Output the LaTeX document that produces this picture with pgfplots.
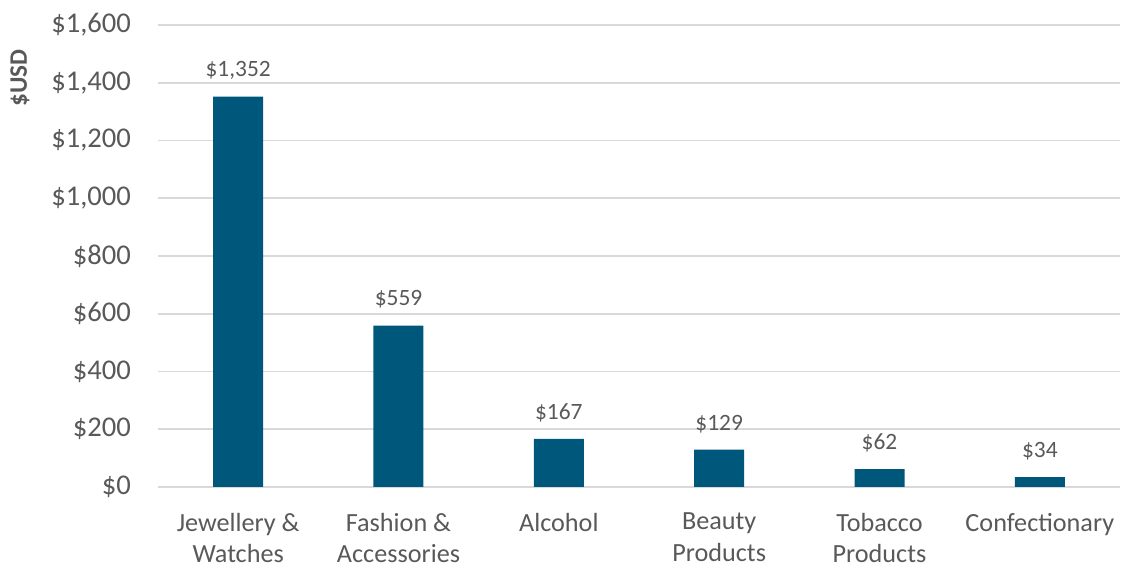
\documentclass[border=0pt]{standalone}
\usepackage{pgfplots}
\pgfplotsset{compat=1.18}
\usepackage{fontspec}
\setmainfont{Carlito}
\definecolor{barblue}{RGB}{0,87,124}
\definecolor{txtgray}{HTML}{595959}
\definecolor{gridgray}{HTML}{D9D9D9}
\begin{document}
\begin{tikzpicture}
\path[use as bounding box] (-79pt,-39.5pt) rectangle (481.5pt,243.5pt);
\begin{axis}[
  at={(0,0)}, anchor=south west,
  scale only axis,
  width=481pt, height=231pt,
  xmin=-0.5, xmax=5.5,
  ymin=0, ymax=1600,
  ytick={0,200,...,1600},
  yticklabels={\$0,\$200,\$400,\$600,\$800,{\$1,000},{\$1,200},{\$1,400},{\$1,600}},
  xtick={0,1,2,3,4,5},
  xticklabels={Jewellery \&\\Watches,Fashion \&\\Accessories,Alcohol\\\strut,Beauty\\Products,Tobacco\\Products,Confectionary\\\strut},
  axis line style={draw=none},
  major tick length=0pt,
  ymajorgrids,
  grid style={gridgray, line width=0.8pt},
  yticklabel style={font=\fontsize{14.3}{17}\selectfont, text=txtgray, anchor=east, xshift=-10pt},
  xticklabel style={font=\fontsize{13.1}{15.8}\selectfont, text=txtgray, align=center, anchor=north, yshift=-9.5pt, execute at begin node=\strut},
  ylabel={\$USD},
  ylabel style={at={(axis description cs:-0.1435,0.885)}, anchor=center, rotate=0, font=\fontsize{12.6}{15}\selectfont\bfseries, text=txtgray},
  ybar, bar width=25pt,
  point meta=explicit symbolic,
  nodes near coords,
  nodes near coords style={font=\fontsize{11.7}{14}\selectfont, text=txtgray, anchor=center, yshift=13pt},
  clip=false,
]
\addplot[fill=barblue, draw=none] coordinates {
  (0,1352) [\$1,352]
  (1,559) [\$559]
  (2,167) [\$167]
  (3,129) [\$129]
  (4,62) [\$62]
  (5,34) [\$34]
};
\end{axis}
\end{tikzpicture}
\end{document}
